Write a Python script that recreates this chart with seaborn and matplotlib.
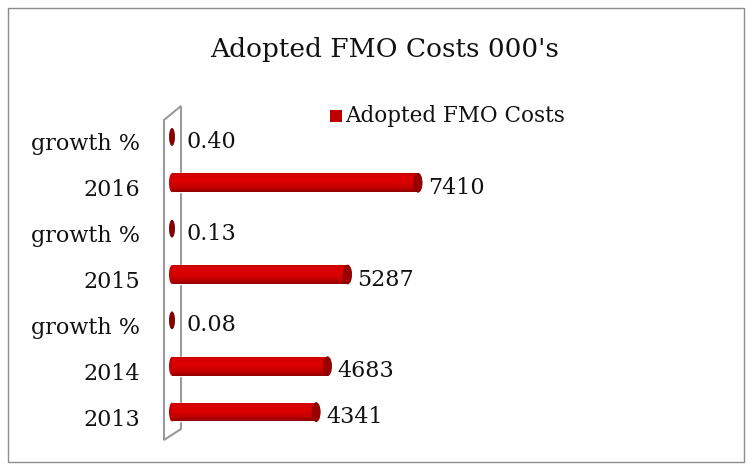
import matplotlib.pyplot as plt
import matplotlib.patches as mpatches
from matplotlib.transforms import ScaledTranslation
import seaborn as sns
import pandas as pd
import numpy as np

# chart data (top to bottom)
row_keys = ["g2016", "2016", "g2015", "2015", "g2014", "2014", "2013"]
row_labels = ["growth %", "2016", "growth %", "2015", "growth %", "2014", "2013"]
values = [0.40, 7410, 0.13, 5287, 0.08, 4683, 4341]
value_text = ["0.40", "7410", "0.13", "5287", "0.08", "4683", "4341"]

W, H = 752, 470
sns.set_theme(style="white")
plt.rcParams['font.family'] = ['DejaVu Serif']

df = pd.DataFrame({"row": row_keys, "cost": values})

fig = plt.figure(figsize=(W / 100, H / 100), dpi=100)
ax = fig.add_axes([172 / W, 1 - 435 / H, 528 / W, 321 / H])
down = ScaledTranslation(0, -5 / 100, fig.dpi_scale_trans)

# outer frame
fig.patches.append(mpatches.Rectangle((8 / W, 8 / H), 736 / W, 454 / H, transform=fig.transFigure,
                                      fill=False, edgecolor="#8c8c8c", linewidth=1.0, zorder=-2))
# 3d side wall
wall = [(164, 120), (181, 106), (181, 429), (164, 440)]
fig.patches.append(mpatches.Polygon([(x / W, 1 - y / H) for x, y in wall], closed=True,
                                    transform=fig.transFigure, facecolor="white",
                                    edgecolor="#9a9a9a", linewidth=1.5, zorder=-1))

sns.barplot(data=df, x="cost", y="row", order=row_keys, orient="h", color="#d40000",
            width=0.41, saturation=1, ax=ax, zorder=3)

ax.set_xlim(0, 15900)
ax.set_ylim(6.5, -0.5)
px = 15900 / 528  # data units per pixel

# cylinder shading and end caps
grad = np.linspace(0, 1, 64).reshape(-1, 1)
shade = np.clip(1.0 - 0.55 * (grad - 0.35) ** 2 * 4, 0, 1)
for i, patch in enumerate(ax.patches[:len(values)]):
    x0, y0 = patch.get_x(), patch.get_y()
    w, h = patch.get_width(), patch.get_height()
    cap_w = 8 * px
    if w > cap_w:
        img = ax.imshow(np.dstack([0.55 + 0.32 * shade, 0.0 * shade, 0.0 * shade]),
                        extent=[x0, x0 + w, y0 + h, y0], aspect="auto", zorder=3.5,
                        interpolation="bicubic")
        img.set_clip_path(patch)
        ax.add_patch(mpatches.Ellipse((x0, y0 + h / 2), 6 * px, h, facecolor="#c40000",
                                      edgecolor="none", zorder=3.4, clip_on=False))
        ax.add_patch(mpatches.Ellipse((x0 + w, y0 + h / 2), cap_w, h, facecolor="#9a0000",
                                      edgecolor="#7a0000", linewidth=0.6, zorder=4))
        t = ax.text(x0 + w + 10 * px, y0 + h / 2, value_text[i], va="center", ha="left",
                    fontsize=16, color="#111111")
    else:
        patch.set_visible(False)
        ax.add_patch(mpatches.Ellipse((x0, y0 + h / 2), 5 * px, h * 0.9, facecolor="#8b0000",
                                      edgecolor="#6a0000", linewidth=0.6, zorder=4, clip_on=False))
        t = ax.text(x0 + 15 * px, y0 + h / 2, value_text[i], va="center", ha="left",
                    fontsize=16, color="#111111")
    t.set_transform(t.get_transform() + down)

ax.set_yticks(range(len(row_labels)))
ax.set_yticklabels(row_labels, fontsize=16, color="#111111")
ax.tick_params(axis="y", pad=23, length=0)
for lab in ax.get_yticklabels():
    lab.set_transform(lab.get_transform() + down)
ax.set_xticks([])
ax.set_xlabel("")
ax.set_ylabel("")
for s in ax.spines.values():
    s.set_visible(False)
ax.patch.set_alpha(0)

fig.text(385 / W, 1 - 50 / H, "Adopted FMO Costs 000's", ha="center", va="center",
         fontsize=19, color="#111111")
# legend
fig.patches.append(mpatches.Rectangle((330 / W, 1 - 122 / H), 12 / W, 12 / H, transform=fig.transFigure,
                                      facecolor="#c00000", edgecolor="none"))
fig.text(345 / W, 1 - 116 / H, "Adopted FMO Costs", ha="left", va="center", fontsize=15.5, color="#111111")

fig.savefig("out.png", dpi=100)
